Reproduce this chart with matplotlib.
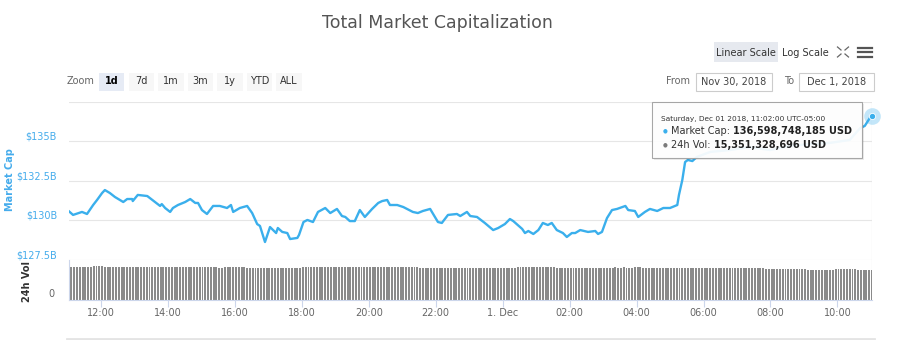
import matplotlib
matplotlib.use("Agg")
import matplotlib.pyplot as plt
import matplotlib.transforms as mtransforms
from matplotlib.patches import FancyBboxPatch, Rectangle
from matplotlib.lines import Line2D
import numpy as np

# market cap in $B, minutes after Nov 30 2018 11:02
price_minutes = [0, 8, 24, 33, 44, 51, 60, 65, 74, 83, 98, 105, 114, 115, 124, 141, 155, 164,
                 167, 173, 182, 187, 196, 209, 218, 227, 232, 239, 248, 259, 271, 284, 291, 295,
                 307, 320, 329, 338, 343, 352, 361, 372, 375, 383, 392, 397, 410, 413, 421, 428,
                 438, 447, 460, 469, 481, 490, 496, 504, 513, 522, 531, 544, 555, 562, 571, 576,
                 589, 600, 617, 626, 635, 648, 662, 669, 680, 696, 702, 714, 720, 732, 746, 761,
                 770, 782, 791, 797, 813, 818, 824, 833, 842, 850, 859, 866, 875, 886, 893, 902,
                 908, 917, 931, 944, 949, 956, 965, 974, 983, 998, 1003, 1015, 1021, 1033, 1042,
                 1055, 1066, 1078, 1091, 1094, 1100, 1105, 1110, 1118, 1126, 1150, 1185, 1221,
                 1257, 1293, 1329, 1364, 1400, 1419, 1427, 1436, 1440]
price_bn = [130.58, 130.33, 130.52, 130.39, 130.96, 131.28, 131.72, 131.91, 131.72, 131.47,
            131.15, 131.34, 131.34, 131.21, 131.60, 131.53, 131.15, 130.90, 131.02, 130.77,
            130.52, 130.77, 130.96, 131.15, 131.34, 131.09, 131.09, 130.64, 130.39, 130.90,
            130.90, 130.77, 130.96, 130.52, 130.77, 130.90, 130.45, 129.75, 129.63, 128.61,
            129.56, 129.18, 129.50, 129.25, 129.18, 128.80, 128.87, 129.06, 129.88, 130.01,
            129.88, 130.52, 130.77, 130.45, 130.71, 130.26, 130.20, 129.94, 129.94, 130.64,
            130.20, 130.71, 131.09, 131.21, 131.28, 130.96, 130.96, 130.83, 130.52, 130.45,
            130.58, 130.71, 129.88, 129.82, 130.33, 130.39, 130.26, 130.52, 130.26, 130.20,
            129.82, 129.37, 129.50, 129.75, 130.07, 129.94, 129.44, 129.18, 129.31, 129.12,
            129.37, 129.82, 129.69, 129.82, 129.37, 129.18, 128.93, 129.18, 129.18, 129.37,
            129.25, 129.31, 129.12, 129.25, 130.13, 130.64, 130.71, 130.90, 130.64, 130.58,
            130.20, 130.52, 130.71, 130.58, 130.77, 130.77, 130.96, 131.60, 132.55, 133.69,
            133.82, 133.75, 134.01, 134.33, 134.45, 134.64, 134.45, 134.71, 134.83, 134.90,
            135.09, 135.85, 135.98, 136.48, 136.598748185]

# 24h volume in $B, one value per 5 minutes (each row = one hour)
vol_bn = [
    16.9, 17.0, 17.0, 16.9, 17.0, 17.1, 17.0, 17.1, 17.2, 17.3, 17.2, 17.3,
    17.1, 17.0, 17.0, 17.1, 16.9, 17.0, 17.0, 17.1, 17.0, 16.9, 17.0, 17.0,
    17.0, 17.1, 17.0, 16.9, 17.0, 17.0, 17.1, 17.0, 17.0, 16.9, 17.0, 17.1,
    17.0, 16.9, 16.9, 17.0, 16.9, 16.9, 16.8, 16.9, 16.9, 17.0, 16.9, 16.9,
    16.9, 16.8, 16.9, 16.9, 16.8, 16.5, 16.6, 16.8, 16.9, 16.9, 16.8, 16.8,
    16.8, 16.7, 16.8, 16.6, 16.6, 16.5, 16.6, 16.6, 16.5, 16.6, 16.5, 16.5,
    16.5, 16.5, 16.4, 16.5, 16.5, 16.4, 16.5, 16.5, 16.4, 16.5, 16.6, 16.7,
    16.9, 17.0, 17.0, 16.9, 17.0, 17.0, 16.9, 17.0, 17.0, 16.9, 17.0, 16.9,
    17.0, 16.9, 17.0, 17.0, 16.9, 16.9, 17.0, 16.9, 16.9, 16.8, 16.9, 16.9,
    16.8, 16.9, 16.8, 16.8, 16.8, 16.7, 16.8, 16.8, 16.9, 16.8, 16.7, 16.8,
    16.8, 16.7, 16.8, 16.9, 16.8, 16.6, 16.6, 16.5, 16.6, 16.6, 16.5, 16.6,
    16.5, 16.6, 16.5, 16.5, 16.6, 16.5, 16.5, 16.6, 16.5, 16.5, 16.6, 16.5,
    16.5, 16.5, 16.6, 16.5, 16.4, 16.5, 16.5, 16.5, 16.6, 16.5, 16.5, 16.6,
    16.5, 16.6, 16.5, 16.6, 16.8, 16.9, 16.9, 17.0, 16.9, 16.9, 17.0, 16.9,
    16.9, 17.0, 16.9, 16.8, 16.9, 16.7, 16.6, 16.6, 16.6, 16.6, 16.5, 16.6,
    16.6, 16.6, 16.5, 16.6, 16.6, 16.6, 16.5, 16.6, 16.6, 16.5, 16.6, 16.6,
    16.6, 16.6, 16.6, 16.7, 16.6, 16.6, 16.7, 16.6, 16.6, 16.6, 16.7, 16.7,
    16.7, 16.3, 16.3, 16.2, 16.3, 16.3, 16.2, 16.3, 16.3, 16.3, 16.2, 16.3,
    16.3, 16.2, 16.3, 16.3, 16.3, 16.3, 16.4, 16.3, 16.3, 16.4, 16.6, 16.5,
    16.4, 16.3, 16.3, 16.4, 16.4, 16.3, 16.4, 16.4, 16.5, 16.6, 16.5, 16.6,
    16.5, 16.4, 16.5, 16.4, 16.3, 16.4, 16.4, 16.5, 16.4, 15.9, 15.9, 15.8,
    15.8, 15.8, 15.9, 15.8, 15.8, 15.8, 15.9, 15.8, 15.8, 15.7, 15.8, 15.7,
    15.6, 15.5, 15.5, 15.5, 15.4, 15.5, 15.5, 15.4, 15.5, 15.5, 15.7, 15.7,
    15.7, 15.8, 15.7, 15.8, 15.7, 15.7, 15.6, 15.5, 15.6, 15.5, 15.4, 15.351328696,
]

tick_hours = [12, 14, 16, 18, 20, 22, 24, 26, 28, 30, 32, 34]
tick_labels = ["12:00", "14:00", "16:00", "18:00", "20:00", "22:00", "1. Dec",
               "02:00", "04:00", "06:00", "08:00", "10:00"]
price_ticks = [127.5, 130, 132.5, 135, 137.5]
price_tick_labels = [r"\$127.5B", r"\$130B", r"\$132.5B", r"\$135B"]
zoom_buttons = ["1d", "7d", "1m", "3m", "1y", "YTD", "ALL"]

LINE = "#3aafec"
W, H = 918, 340


def fx(x):
    return x / W


def fy(y):
    return 1 - y / H


fig = plt.figure(figsize=(W / 100, H / 100), dpi=100)

# hours since Nov 30 00:00
t0 = 11 + 2 / 60
t_price = t0 + np.array(price_minutes) / 60.0
t_vol = t0 + 24 - np.arange(len(vol_bn))[::-1] * 5 / 60.0

left, right = 68.6, 872.0
ax = fig.add_axes([fx(left), fy(259.5), (right - left) / W, 157.5 / H])
axv = fig.add_axes([fx(left), fy(300), (right - left) / W, 40 / H])

# price pane
ax.plot(t_price, price_bn, color=LINE, lw=1.7, solid_joinstyle="round")
ax.plot(t_price[-1], price_bn[-1], "o", ms=12, color=LINE, alpha=0.3, mec="none", clip_on=False)
ax.plot(t_price[-1], price_bn[-1], "o", ms=4.5, color=LINE, mec="white", mew=0.6, clip_on=False)
ax.set_xlim(t0, t0 + 24)
ax.set_ylim(127.5, 137.5)
ax.set_yticks(price_ticks)
ax.set_yticklabels([])
ax.tick_params(axis="y", length=0)
ax.set_xticks([])
ax.grid(axis="y", color="#e6e6e6", lw=0.8)
for s in ax.spines.values():
    s.set_visible(False)
lab_tr = ax.get_yaxis_transform() + mtransforms.ScaledTranslation(-0.115, 0.045, fig.dpi_scale_trans)
for v, lab in zip(price_ticks, price_tick_labels):
    ax.text(0, v, lab, transform=lab_tr, ha="right", va="center", fontsize=7, color="#45acec")

# volume pane
axv.bar(t_vol, vol_bn, width=0.058, color="#8a8a8a", align="center")
axv.set_xlim(t0, t0 + 24)
axv.set_ylim(0, 20.5)
axv.set_yticks([])
axv.set_xticks(tick_hours)
axv.set_xticklabels(tick_labels, fontsize=7, color="#666666")
axv.tick_params(axis="x", length=5, width=0.8, color="#ccd6eb", pad=1)
for k in ["top", "right"]:
    axv.spines[k].set_visible(False)
axv.spines["left"].set_color("#ccd6eb")
axv.spines["bottom"].set_color("#ccd6eb")
axv.spines["left"].set_linewidth(0.8)
axv.spines["bottom"].set_linewidth(0.8)
zero_tr = axv.get_yaxis_transform() + mtransforms.ScaledTranslation(-0.14, 0.06, fig.dpi_scale_trans)
axv.text(0, 0, "0", transform=zero_tr, ha="right", va="center", fontsize=7, color="#666666")

# crosshair at the hovered point
for a in (ax, axv):
    a.axvline(t0 + 24, color="#cccccc", lw=0.8, zorder=0)

# axis titles
fig.text(fx(10), fy(180), "Market Cap", rotation=90, ha="center", va="center",
         fontsize=7, color="#45acec", fontweight="bold")
fig.text(fx(27), fy(281), "24h Vol", rotation=90, ha="center", va="center",
         fontsize=7, color="#333333", fontweight="bold")

# title
fig.text(fx(437), fy(23), "Total Market Capitalization", ha="center", va="center",
         fontsize=12.5, color="#555555")


def box(x0, y0, x1, y1, fc, ec="none", lw=0.8):
    fig.patches.append(Rectangle((fx(x0), fy(y1)), fx(x1) - fx(x0), fy(y0) - fy(y1),
                                 transform=fig.transFigure, fc=fc, ec=ec, lw=lw))


# range selector
fig.text(fx(81), fy(81), "Zoom", ha="center", va="center", fontsize=7, color="#666666")
for i, name in enumerate(zoom_buttons):
    x0 = 99 + i * 29.5
    sel = i == 0
    box(x0, 73, x0 + 25.5, 91, "#e6ebf5" if sel else "#f7f7f7")
    fig.text(fx(x0 + 12.75), fy(81.5), name, ha="center", va="center", fontsize=7,
             color="#000000" if sel else "#333333", fontweight="bold" if sel else "normal")

fig.text(fx(678), fy(81), "From", ha="center", va="center", fontsize=7, color="#666666")
box(696, 73, 772, 91, "white", "#cccccc")
fig.text(fx(734), fy(82), "Nov 30, 2018", ha="center", va="center", fontsize=7, color="#444444")
fig.text(fx(789), fy(81), "To", ha="center", va="center", fontsize=7, color="#666666")
box(799, 73, 874, 91, "white", "#cccccc")
fig.text(fx(836.5), fy(82), "Dec 1, 2018", ha="center", va="center", fontsize=7, color="#444444")

# scale toggle and menu icons
box(714, 42, 778, 62, "#e6e9ef")
fig.text(fx(746), fy(52.5), "Linear Scale", ha="center", va="center", fontsize=7, color="#333333")
fig.text(fx(805), fy(52.5), "Log Scale", ha="center", va="center", fontsize=7, color="#333333")
for sx, sy in [(-1, -1), (1, -1), (-1, 1), (1, 1)]:
    cx, cy = 843, 52
    fig.lines.append(Line2D([fx(cx + sx * 2), fx(cx + sx * 5.5)], [fy(cy + sy * 2), fy(cy + sy * 5)],
                            transform=fig.transFigure, color="#666666", lw=0.9))
for yy in [47.5, 52, 56.5]:
    fig.lines.append(Line2D([fx(858), fx(872)], [fy(yy), fy(yy)], transform=fig.transFigure,
                            color="#555555", lw=1.6))

# navigator strip at the bottom
fig.lines.append(Line2D([fx(67), fx(874)], [fy(338.5), fy(338.5)], transform=fig.transFigure,
                        color="#e4e4e4", lw=2))

# tooltip
fig.patches.append(FancyBboxPatch((fx(654), fy(160)), fx(862) - fx(652), fy(102) - fy(158),
                                  boxstyle="square,pad=0", transform=fig.transFigure,
                                  fc="#000000", ec="none", alpha=0.08))
fig.patches.append(FancyBboxPatch((fx(652), fy(158)), fx(862) - fx(652), fy(102) - fy(158),
                                  boxstyle="square,pad=0", transform=fig.transFigure,
                                  fc="white", ec="#a0a0a0", lw=0.8, alpha=0.93))
fig.text(fx(661), fy(119.5), "Saturday, Dec 01 2018, 11:02:00 UTC-05:00", ha="left", va="center",
         fontsize=5.3, color="#333333")
fig.text(fx(665), fy(130.5), "\u25cf", ha="center", va="center", fontsize=4, color=LINE)
fig.text(fx(665), fy(144.5), "\u25cf", ha="center", va="center", fontsize=4, color="#7a7a7a")

renderer = fig.canvas.get_renderer()
rows = [(130.5, "Market Cap: ", "{:,.0f} USD".format(round(price_bn[-1] * 1e9))),
        (144.5, "24h Vol: ", "{:,.0f} USD".format(round(vol_bn[-1] * 1e9)))]
for yy, head, val in rows:
    t = fig.text(fx(671), fy(yy), head, ha="left", va="center", fontsize=7, color="#333333")
    bb = t.get_window_extent(renderer)
    fig.text(bb.x1 / W, fy(yy), val, ha="left", va="center", fontsize=7, color="#222222",
             fontweight="bold")

fig.savefig("out.png", dpi=100)
